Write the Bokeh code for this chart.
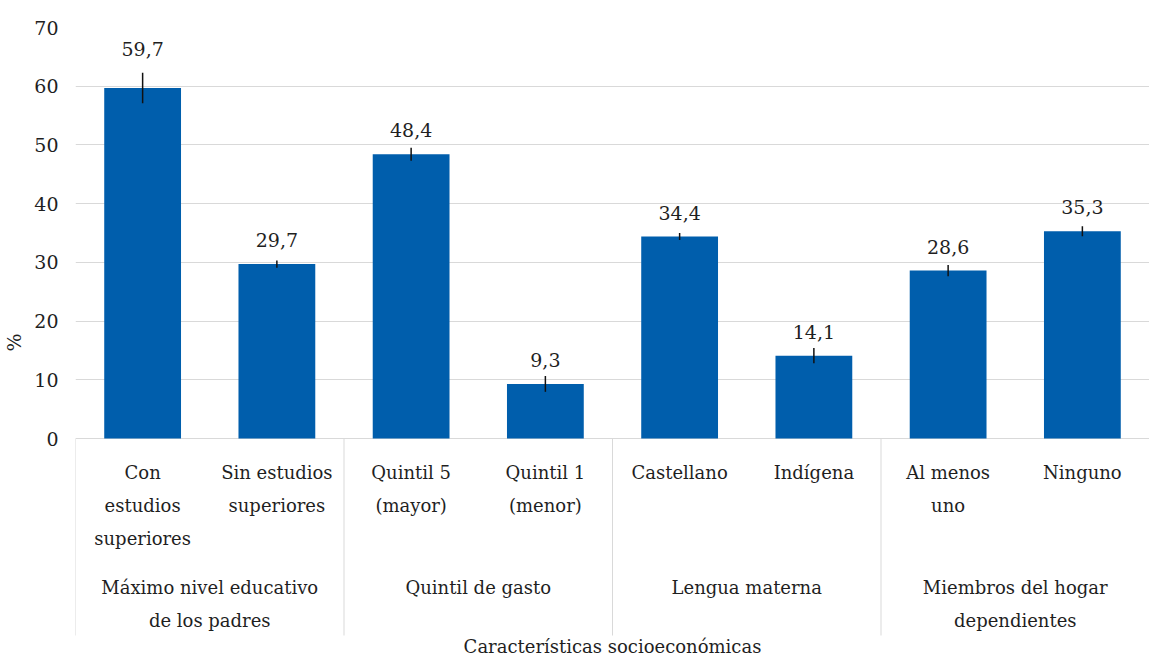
from bokeh.plotting import figure
from bokeh.models import Range1d, FixedTicker, ColumnDataSource
from bokeh.core.properties import value
from bokeh.embed import file_html
from bokeh.resources import INLINE

# ---- data ----
categories = ["Con\nestudios\nsuperiores", "Sin estudios\nsuperiores",
              "Quintil 5\n(mayor)", "Quintil 1\n(menor)",
              "Castellano", "Indígena",
              "Al menos\nuno", "Ninguno"]
groups = ["Máximo nivel educativo\nde los padres", "Quintil de gasto",
          "Lengua materna", "Miembros del hogar\ndependientes"]
values = [59.7, 29.7, 48.4, 9.3, 34.4, 14.1, 28.6, 35.3]
errors = [2.6, 0.6, 1.1, 1.35, 0.6, 1.3, 0.95, 0.85]
value_labels = ["59,7", "29,7", "48,4", "9,3", "34,4", "14,1", "28,6", "35,3"]
y_ticks = [0, 10, 20, 30, 40, 50, 60, 70]
x_title = "Características socioeconómicas"
y_title = "%"

# ---- layout ----
FONT = "DejaVu Serif"
FS = "18px"
TXT = "#1f1f1f"
BAR = "#005EAC"
TOP_B, LEFT_B = 27, 72
FW, FH = 1074, 630
ZERO_PX = 411           # px from frame top to y=0
PPU = ZERO_PX / 70.0
ymin = -(FH - ZERO_PX) / PPU

def below(px):
    return -px / PPU

p = figure(frame_width=FW, frame_height=FH, min_border_left=LEFT_B, min_border_top=TOP_B,
           min_border_right=0, min_border_bottom=0,
           x_range=Range1d(0, len(categories)), y_range=Range1d(ymin, 70),
           output_backend="svg", toolbar_location=None, tools="")
p.xaxis.visible = False
p.outline_line_color = None
p.xgrid.grid_line_color = None
p.ygrid.grid_line_color = "#d9d9d9"
p.ygrid.grid_line_width = 1
p.yaxis.ticker = FixedTicker(ticks=y_ticks)
p.yaxis.axis_line_color = None
p.yaxis.major_tick_line_color = None
p.yaxis.minor_tick_line_color = None
p.yaxis.major_label_standoff = 11
p.yaxis.major_label_text_font = FONT
p.yaxis.major_label_text_font_size = "19px"
p.yaxis.major_label_text_color = TXT
p.yaxis.axis_label = y_title
p.yaxis.axis_label_text_font = FONT
p.yaxis.axis_label_text_font_size = "19px"
p.yaxis.axis_label_text_font_style = "normal"
p.yaxis.axis_label_text_color = TXT
p.yaxis.axis_label_standoff = 6

xs = [i + 0.5 for i in range(len(values))]
src = ColumnDataSource(dict(x=xs, top=values,
                            lo=[v - e for v, e in zip(values, errors)],
                            hi=[v + e for v, e in zip(values, errors)],
                            lab=value_labels,
                            off=[-39 if i == 0 else -24 for i in range(len(values))]))
p.vbar(x="x", top="top", width=0.572, bottom=0, source=src, fill_color=BAR, line_color=None)
p.segment(x0="x", x1="x", y0="lo", y1="hi", source=src, line_color="#111111", line_width=1.5)
p.text(x="x", y="top", text="lab", source=src, y_offset="off",
       text_font=value(FONT), text_font_size="19px", text_color=TXT,
       text_align="center", text_baseline="middle")

# category labels
cx, cy, ct = [], [], []
for i, c in enumerate(categories):
    for j, line in enumerate(c.split("\n")):
        cx.append(i + 0.5)
        cy.append(below(34 + 33 * j))
        ct.append(line)
p.text(x=cx, y=cy, text=ct, text_font=value(FONT), text_font_size=FS,
       text_color=TXT, text_align="center", text_baseline="middle")

# group labels
gx, gy, gt = [], [], []
for i, g in enumerate(groups):
    for j, line in enumerate(g.split("\n")):
        gx.append(2 * i + 1)
        gy.append(below(149 + 33 * j))
        gt.append(line)
p.text(x=gx, y=gy, text=gt, text_font=value(FONT), text_font_size=FS,
       text_color=TXT, text_align="center", text_baseline="middle")

# separators
sep_x = [2 * i for i in range(len(groups))]
p.segment(x0=sep_x, x1=sep_x, y0=[0] * len(sep_x), y1=[below(197)] * len(sep_x),
          line_color="#d9d9d9", line_width=1)

# x title
p.text(x=[len(categories) / 2], y=[below(208)], text=[x_title], text_font=value(FONT),
       text_font_size=FS, text_color=TXT, text_align="center", text_baseline="middle")

open("out.html", "w").write(file_html(p, INLINE))
